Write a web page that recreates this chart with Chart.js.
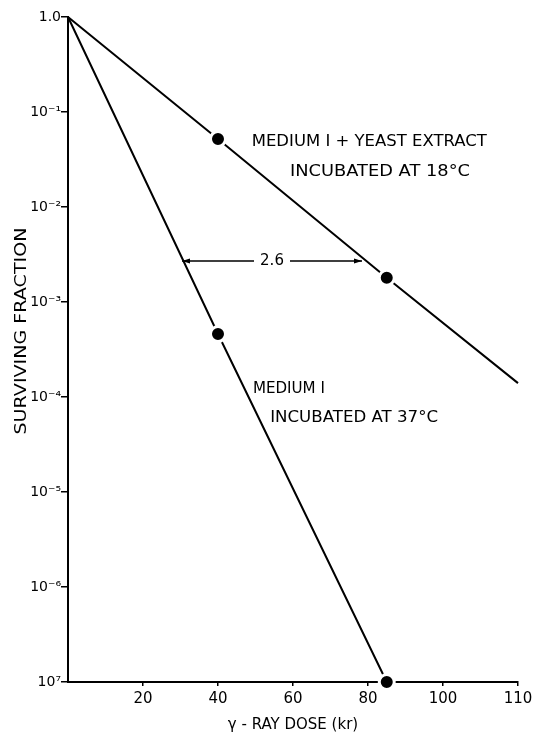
<!DOCTYPE html>
<html>
<head>
<meta charset="utf-8">
<script src="https://cdn.jsdelivr.net/npm/chart.js@4"></script>
<style>
  html, body { margin: 0; padding: 0; background: #fff; }
  canvas { display: block; }
</style>
</head>
<body>
<canvas id="survivalChart" width="537" height="737"></canvas>
<script>
// dose (kr, in axis units) and surviving fraction
const yeastDose = [0, 40, 85, 120];
const yeastSurvival = [1, 0.052, 0.0018, 0.00014];
const yeastMarked = [false, true, true, false];

const mediumDose = [0, 40, 85];
const mediumSurvival = [1, 0.00046, 1e-7];
const mediumMarked = [false, true, true];

const xTickValues = [20, 40, 60, 80, 100, 120];
const xTickLabels = ['20', '40', '60', '80', '100', '110'];
const yTickValues = [1e-7, 1e-6, 1e-5, 1e-4, 1e-3, 1e-2, 1e-1, 1];
const yTickLabels = ['10\u2077', '10\u207B\u2076', '10\u207B\u2075', '10\u207B\u2074', '10\u207B\u00B3', '10\u207B\u00B2', '10\u207B\u00B9', '1.0'];

// dose-modifying arrow between the two curves
const arrowFrom = 30.4;
const arrowTo = 78.4;
const arrowLevel = 0.0027;
const arrowLabel = '2.6';

const FONT = '"DejaVu Sans", sans-serif';

function toPoints(xs, ys) {
    return xs.map((x, i) => ({ x: x, y: ys[i] }));
}

function markerRadius(marked) {
    return marked.map(m => m ? 7.5 : 0);
}

const notes = [
    { text: 'MEDIUM I + YEAST EXTRACT', x: 49, y: 0.048, width: 235 },
    { text: 'INCUBATED AT 18\u00B0C', x: 59.2, y: 0.0233, width: 180 },
    { text: 'MEDIUM I', x: 49.3, y: 1.2e-4, width: 72 },
    { text: 'INCUBATED AT 37\u00B0C', x: 53.9, y: 6e-5, width: 168 }
];

const annotations = {
    id: 'annotations',
    afterDatasetsDraw(chart) {
        const c = chart.ctx;
        const xs = chart.scales.x;
        const ys = chart.scales.y;
        c.save();
        c.fillStyle = '#000';
        c.strokeStyle = '#000';
        c.textBaseline = 'middle';

        // labels next to the curves
        c.font = '15px ' + FONT;
        c.textAlign = 'left';
        notes.forEach(n => {
            const px = xs.getPixelForValue(n.x);
            const py = ys.getPixelForValue(n.y);
            const w = c.measureText(n.text).width;
            c.save();
            c.translate(px, py);
            c.scale(n.width / w, 1);
            c.fillText(n.text, 0, 0);
            c.restore();
        });

        // arrow with label in the middle
        const x1 = xs.getPixelForValue(arrowFrom);
        const x2 = xs.getPixelForValue(arrowTo);
        const ay = ys.getPixelForValue(arrowLevel);
        const mid = (x1 + x2) / 2;
        const gap = 18;
        c.lineWidth = 1.3;
        c.beginPath();
        c.moveTo(x1, ay);
        c.lineTo(mid - gap, ay);
        c.moveTo(mid + gap, ay);
        c.lineTo(x2, ay);
        c.stroke();
        [[x1, 1], [x2, -1]].forEach(([x, dir]) => {
            c.beginPath();
            c.moveTo(x, ay);
            c.lineTo(x + dir * 8, ay - 2.5);
            c.lineTo(x + dir * 8, ay + 2.5);
            c.closePath();
            c.fill();
        });
        c.font = '15px ' + FONT;
        c.textAlign = 'center';
        c.fillText(arrowLabel, mid, ay);

        // y axis title
        c.save();
        c.translate(22, 331);
        c.rotate(-Math.PI / 2);
        c.font = '15px ' + FONT;
        c.textAlign = 'center';
        const title = 'SURVIVING FRACTION';
        const tw = c.measureText(title).width;
        c.scale(207 / tw, 1);
        c.fillText(title, 0, 0);
        c.restore();

        c.restore();
    }
};

const ctx = document.getElementById('survivalChart').getContext('2d');
const chart = new Chart(ctx, {
    type: 'line',
    data: {
        datasets: [
            {
                label: 'Medium I + yeast extract, 18\u00B0C',
                data: toPoints(yeastDose, yeastSurvival),
                borderColor: '#000',
                borderWidth: 2,
                pointRadius: markerRadius(yeastMarked),
                pointBackgroundColor: '#000',
                pointBorderColor: '#fff',
                pointBorderWidth: 3,
                clip: false
            },
            {
                label: 'Medium I, 37\u00B0C',
                data: toPoints(mediumDose, mediumSurvival),
                borderColor: '#000',
                borderWidth: 2,
                pointRadius: markerRadius(mediumMarked),
                pointBackgroundColor: '#000',
                pointBorderColor: '#fff',
                pointBorderWidth: 3,
                clip: false
            }
        ]
    },
    options: {
        responsive: false,
        animation: false,
        events: [],
        layout: { padding: { top: 17, right: 19, left: 0, bottom: 0 } },
        plugins: {
            legend: { display: false },
            tooltip: { enabled: false }
        },
        scales: {
            x: {
                type: 'linear',
                min: 0,
                max: 120,
                afterBuildTicks: function(scale) {
                    scale.ticks = xTickValues.map(v => ({ value: v }));
                },
                afterFit: function(scale) {
                    scale.height = 55;
                },
                border: { color: '#000', width: 2 },
                grid: { display: true, drawOnChartArea: false, drawTicks: true, tickLength: 4, color: '#000', lineWidth: 1.5 },
                ticks: {
                    color: '#000',
                    padding: 4,
                    maxRotation: 0,
                    font: { family: FONT, size: 15 },
                    callback: function(value) {
                        const i = xTickValues.indexOf(value);
                        return i >= 0 ? xTickLabels[i] : '';
                    }
                },
                title: {
                    display: true,
                    text: '\u03B3 - RAY DOSE (kr)',
                    color: '#000',
                    font: { family: FONT, size: 15 },
                    padding: { top: 0, bottom: 3 }
                }
            },
            y: {
                type: 'logarithmic',
                min: 1e-7,
                max: 1,
                afterBuildTicks: function(scale) {
                    scale.ticks = yTickValues.map(v => ({ value: v }));
                },
                afterFit: function(scale) {
                    scale.width = 68;
                },
                border: { color: '#000', width: 2 },
                grid: { display: true, drawOnChartArea: false, drawTicks: true, tickLength: 7, color: '#000', lineWidth: 1.5 },
                ticks: {
                    color: '#000',
                    padding: 0,
                    font: { family: FONT, size: 14 },
                    callback: function(value) {
                        const i = yTickValues.findIndex(v => Math.abs(v - value) / v < 1e-6);
                        return i >= 0 ? yTickLabels[i] : '';
                    }
                }
            }
        }
    },
    plugins: [annotations]
});
</script>
</body>
</html>
